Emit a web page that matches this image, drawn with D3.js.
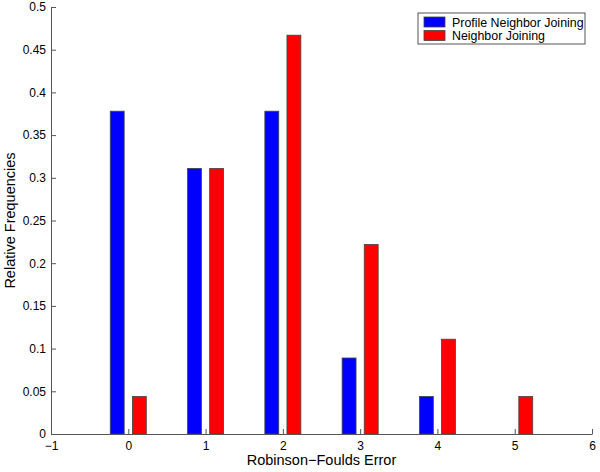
<!DOCTYPE html>
<html>
<head>
<meta charset="utf-8">
<script src="https://cdn.jsdelivr.net/npm/d3@7"></script>
<style>
  body { margin: 0; background: #fff; }
  text { font-family: "Liberation Sans", Arial, sans-serif; }
</style>
</head>
<body>
<div id="chart"></div>
<script>
// data
const errors = [0, 1, 2, 3, 4, 5]
const profileNJ = [0.378, 0.311, 0.378, 0.089, 0.044, 0]
const neighborJ = [0.044, 0.311, 0.467, 0.222, 0.111, 0.044]
const seriesNames = ["Profile Neighbor Joining", "Neighbor Joining"]
const seriesColors = ["#0000ff", "#ff0000"]
const xTicks = [-1, 0, 1, 2, 3, 4, 5, 6]
const yTicks = [0, 0.05, 0.1, 0.15, 0.2, 0.25, 0.3, 0.35, 0.4, 0.45, 0.5]

const W = 600, H = 472
const margin = {left: 51, right: 8, top: 7, bottom: 38}
const axisColor = "#555"

let svg = d3.select("#chart").append("svg")
    .attr("width", W).attr("height", H)

let x = d3.scaleLinear().domain([-1, 6]).range([margin.left, W - margin.right])
let y = d3.scaleLinear().domain([0, 0.5]).range([H - margin.bottom, margin.top])

// bars
let offset = 0.143, barW = 0.18
let series = [profileNJ, neighborJ]
series.forEach(function (vals, s) {
    svg.append("g").selectAll("rect")
        .data(vals).enter()
        .append("rect")
        .attr("x", (d, i) => x(errors[i] + (s === 0 ? -offset : offset) - barW / 2))
        .attr("width", x(barW) - x(0))
        .attr("y", d => y(d))
        .attr("height", d => y(0) - y(d))
        .attr("fill", seriesColors[s])
        .attr("stroke", "#444")
        .attr("stroke-width", 0.8)
})

// x axis
let xAxis = svg.append("g")
    .attr("transform", "translate(0," + y(0) + ")")
    .call(d3.axisBottom(x).tickValues(xTicks).tickSizeInner(-5).tickSizeOuter(0)
        .tickFormat(d => d < 0 ? "\u2212" + Math.abs(d) : d))
xAxis.select(".domain").attr("stroke", axisColor)
xAxis.selectAll(".tick line").attr("stroke", axisColor)
xAxis.selectAll(".tick text").attr("y", 16).attr("dy", null).attr("font-size", 12).attr("fill", "#000")
    .attr("font-family", "Liberation Sans, Arial, sans-serif")

// y axis
let yAxis = svg.append("g")
    .attr("transform", "translate(" + x(-1) + ",0)")
    .call(d3.axisLeft(y).tickValues(yTicks).tickSizeInner(-5).tickSizeOuter(0)
        .tickFormat(d => d3.format("~g")(d)))
yAxis.select(".domain").attr("stroke", axisColor)
yAxis.selectAll(".tick line").attr("stroke", axisColor)
yAxis.selectAll(".tick text").attr("x", -5).attr("font-size", 12).attr("fill", "#000")
    .attr("font-family", "Liberation Sans, Arial, sans-serif")

// axis titles
svg.append("text")
    .attr("x", (x(-1) + x(6)) / 2).attr("y", 465)
    .attr("text-anchor", "middle").attr("font-size", 14.5)
    .text("Robinson\u2212Foulds Error")
svg.append("text")
    .attr("transform", "translate(15," + (y(0.25)) + ") rotate(-90)")
    .attr("text-anchor", "middle").attr("font-size", 14.5)
    .text("Relative Frequencies")

// legend
let lg = svg.append("g").attr("transform", "translate(418,13)")
lg.append("rect").attr("width", 167).attr("height", 31)
    .attr("fill", "#fff").attr("stroke", "#555").attr("stroke-width", 1)
seriesNames.forEach(function (name, i) {
    lg.append("rect").attr("x", 6).attr("y", 4 + i * 13.5).attr("width", 21).attr("height", 10)
        .attr("fill", seriesColors[i]).attr("stroke", "#444").attr("stroke-width", 0.8)
    lg.append("text").attr("x", 34).attr("y", 13.5 + i * 13.5)
        .attr("font-size", 12.4).text(name)
})
</script>
</body>
</html>
